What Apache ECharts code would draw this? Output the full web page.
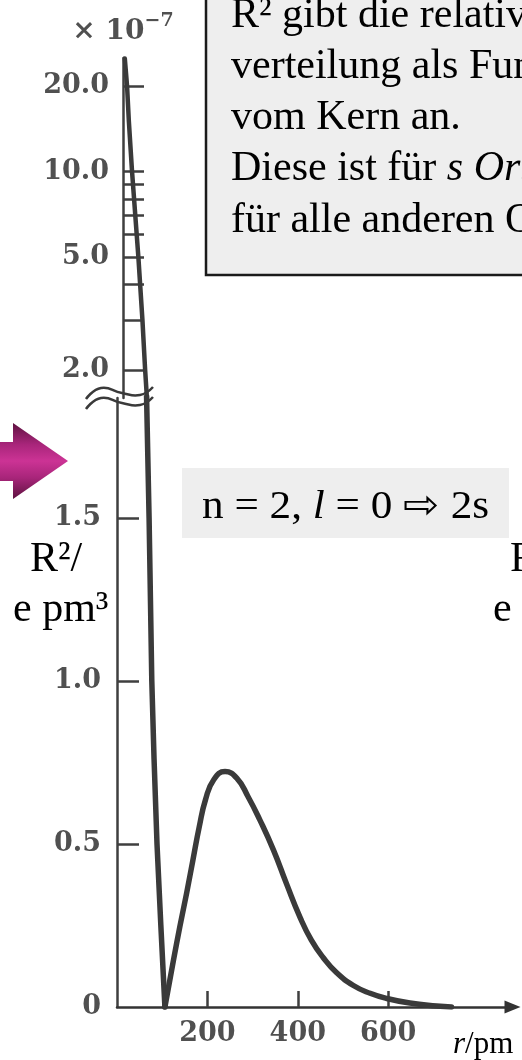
<!DOCTYPE html>
<html><head><meta charset="utf-8">
<script src="https://cdn.jsdelivr.net/npm/echarts@6/dist/echarts.min.js"></script>
<style>html,body{margin:0;padding:0;background:#fff;}#c{width:522px;height:1060px;}</style>
</head><body><div id="c"></div>
<script>
// ---- data (r in pm, R^2 in 1e-7 units) ----
const coreR = [4, 9, 13, 20, 34, 43, 49, 54];
const coreV = [25, 20, 15, 10, 5, 3, 2, 1.5];
const dropR = [65, 71, 77, 82, 88.5, 97, 106];
const dropV = [1.9, 1.5, 1.0, 0.76, 0.5, 0.25, 0];
const lobeR = [106, 125, 139, 154, 168, 182, 196, 214, 239, 265, 290, 316, 346, 375, 405, 430, 456, 486, 523, 560, 597, 648, 707, 740];
const lobeV = [0, 0.144, 0.246, 0.349, 0.451, 0.553, 0.637, 0.697, 0.722, 0.702, 0.645, 0.574, 0.482, 0.378, 0.275, 0.205, 0.152, 0.105, 0.066, 0.042, 0.026, 0.012, 0.003, 0];
const xTickValues = [200, 400, 600];
const logTickValues = [2, 3, 4, 5, 6, 7, 8, 9, 10, 20];
const logLabelValues = [2, 5, 10, 20];
const linTickValues = [0.5, 1, 1.5];
const linLabelValues = [0, 0.5, 1, 1.5];
const boxLines = [
  'R\u00B2 gibt die relative',
  'verteilung als Funktion',
  'vom Kern an.',
  'Diese ist f\u00FCr {i|s Orbitale}',
  'f\u00FCr alle anderen Orbitale'
];
const stateLabel = 'n = 2, {i|l} = 0 \u21E8 2s';

const SERIF = '"Liberation Serif","Times New Roman",serif';
const LBL = '"DejaVu Serif",serif';
const AX = '#3f3f3f';
const LC = '#505050';

const chart = echarts.init(document.getElementById('c'), null, {renderer: 'canvas'});
const pairs = (a, b) => a.map((v, i) => [v, b[i]]);

const boxTexts = boxLines.map((t, i) => ({
  type: 'text', x: 231, y: 15.5 + i * 51.3, z: 20,
  style: {
    text: t, fill: '#000', fontSize: 42, fontFamily: SERIF, align: 'left', verticalAlign: 'middle',
    rich: {i: {fontSize: 42, fontFamily: SERIF, fontStyle: 'italic', fill: '#000'}}
  }
}));

const labelFont = {fontSize: 27, fontFamily: LBL, fontWeight: 'bold', color: LC};

const option = {
  animation: false,
  backgroundColor: '#ffffff',
  grid: [
    {left: 123, top: 58, width: 395.5, height: 340, containLabel: false, outerBoundsMode: 'none'},
    {left: 117, top: 398, width: 395.5, height: 609, containLabel: false, outerBoundsMode: 'none'}
  ],
  xAxis: [
    {gridIndex: 0, type: 'value', min: 0, max: 875, show: false},
    {gridIndex: 1, type: 'value', min: 0, max: 875,
      axisLine: {show: true, symbol: ['none', 'triangle'], symbolSize: [13, 16], lineStyle: {color: '#333', width: 2.5}},
      axisTick: {show: true, inside: true, length: 16, customValues: xTickValues, lineStyle: {color: AX, width: 2.5}},
      axisLabel: Object.assign({customValues: xTickValues, margin: 13}, labelFont),
      splitLine: {show: false}}
  ],
  yAxis: [
    {gridIndex: 0, type: 'log', logBase: 10, min: 1.594, max: 25.1,
      axisLine: {show: true, lineStyle: {color: AX, width: 2.5}},
      axisTick: {show: true, inside: true, length: 21, customValues: logTickValues, lineStyle: {color: AX, width: 2.5}},
      axisLabel: Object.assign({customValues: logLabelValues, margin: 14,
        formatter: v => Number(v).toFixed(1)}, labelFont),
      splitLine: {show: false}, minorTick: {show: false},
      name: '{a|\u00D7 10}{b|\u22127}', nameLocation: 'end', nameGap: 12,
      nameTextStyle: {rich: {
        a: {fontSize: 28, fontFamily: LBL, fontWeight: 'bold', color: LC, lineHeight: 34, verticalAlign: 'bottom'},
        b: {fontSize: 19, fontFamily: LBL, fontWeight: 'bold', color: LC, lineHeight: 34, verticalAlign: 'top'}
      }}},
    {gridIndex: 1, type: 'value', min: 0, max: 1.868,
      axisLine: {show: true, lineStyle: {color: AX, width: 2.5}},
      axisTick: {show: true, inside: true, length: 22, customValues: linTickValues, lineStyle: {color: AX, width: 2.5}},
      axisLabel: Object.assign({customValues: linLabelValues, margin: 16,
        formatter: v => (Number(v) === 0 ? '0' : Number(v).toFixed(1))}, labelFont),
      splitLine: {show: false}}
  ],
  series: [
    {type: 'line', xAxisIndex: 0, yAxisIndex: 0, data: pairs(coreR, coreV), showSymbol: false, silent: true,
      lineStyle: {color: '#3a3a3a', width: 4.5, cap: 'round', join: 'round'}},
    {type: 'line', xAxisIndex: 1, yAxisIndex: 1, data: pairs(dropR, dropV), showSymbol: false, silent: true,
      lineStyle: {color: '#3a3a3a', width: 5.5, cap: 'round', join: 'round'}},
    {type: 'line', xAxisIndex: 1, yAxisIndex: 1, data: pairs(lobeR, lobeV), showSymbol: false, silent: true,
      smooth: 0.5,
      lineStyle: {color: '#3a3a3a', width: 5.5, cap: 'round', join: 'round'}}
  ],
  graphic: [
    {type: 'rect', z: 15, shape: {x: 206, y: -4, width: 330, height: 279},
      style: {fill: '#eeeeee', stroke: '#1a1a1a', lineWidth: 2.5}},
    ...boxTexts,
    {type: 'rect', z: 15, shape: {x: 182, y: 468, width: 327, height: 70}, style: {fill: '#eeeeee'}},
    {type: 'text', x: 202, y: 507, scaleX: 1.08, z: 20, style: {text: stateLabel, fill: '#000', fontSize: 40, fontFamily: SERIF,
      align: 'left', verticalAlign: 'middle',
      rich: {i: {fontSize: 40, fontFamily: SERIF, fontStyle: 'italic', fill: '#000'}}}},
    {type: 'polygon', z: 15, shape: {points: [[0, 442], [13, 442], [13, 423], [68, 461], [13, 499], [13, 481], [0, 481]]},
      style: {fill: new echarts.graphic.LinearGradient(0, 0, 0, 1, [
        {offset: 0, color: '#5e1240'}, {offset: 0.28, color: '#a8257a'}, {offset: 0.5, color: '#cc3395'},
        {offset: 0.72, color: '#a8257a'}, {offset: 1, color: '#5e1240'}])}},
    {type: 'polyline', z: 15, shape: {points: [[86, 399], [101, 388], [122, 393], [140, 395], [153, 387]], smooth: 0.5},
      style: {stroke: '#3a3a3a', lineWidth: 2.5, fill: null}},
    {type: 'polyline', z: 15, shape: {points: [[86, 409], [101, 398], [122, 403], [140, 405], [153, 397]], smooth: 0.5},
      style: {stroke: '#3a3a3a', lineWidth: 2.5, fill: null}},
    {type: 'text', x: 30, y: 560, z: 20, style: {text: 'R\u00B2/', fill: '#000', fontSize: 42, fontFamily: SERIF, align: 'left', verticalAlign: 'middle'}},
    {type: 'text', x: 13, y: 610, z: 20, style: {text: 'e pm\u00B3', fill: '#000', fontSize: 42, fontFamily: SERIF, align: 'left', verticalAlign: 'middle'}},
    {type: 'text', x: 510, y: 560, z: 20, style: {text: 'R\u00B2/', fill: '#000', fontSize: 42, fontFamily: SERIF, align: 'left', verticalAlign: 'middle'}},
    {type: 'text', x: 493, y: 610, z: 20, style: {text: 'e pm\u00B3', fill: '#000', fontSize: 42, fontFamily: SERIF, align: 'left', verticalAlign: 'middle'}},
    {type: 'text', x: 453, y: 1045, z: 20, style: {text: '{i|r}/pm', fill: '#000', fontSize: 31, fontFamily: SERIF, align: 'left', verticalAlign: 'middle',
      rich: {i: {fontSize: 31, fontFamily: SERIF, fontStyle: 'italic', fill: '#000'}}}}
  ]
};
chart.setOption(option);
</script></body></html>
